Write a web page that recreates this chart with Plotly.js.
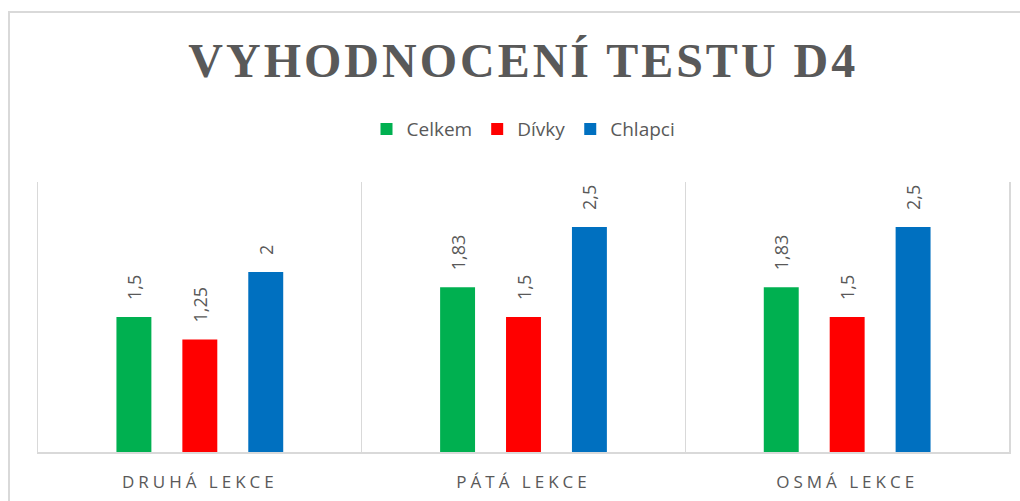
<!DOCTYPE html>
<html>
<head>
<meta charset="utf-8">
<script src="https://cdn.plot.ly/plotly-3.0.1.min.js"></script>
<style>
  html, body { margin: 0; padding: 0; background: #ffffff; }
  #frame { position: absolute; left: 8px; top: 11px; width: 1100px; height: 600px;
           border: 2px solid #d9d9d9; box-sizing: border-box; }
  #chart { position: absolute; left: 0; top: 0; width: 1020px; height: 501px; }
  #chart .xtick text { letter-spacing: 4px; }
  #chart .gtitle { letter-spacing: 3px; }
</style>
</head>
<body>
<div id="frame"></div>
<div id="chart"></div>
<script>
const categories = ["DRUHÁ LEKCE", "PÁTÁ LEKCE", "OSMÁ LEKCE"];
const seriesNames = ["Celkem", "Dívky", "Chlapci"];
const celkem = [1.5, 1.83, 1.83];
const divky = [1.25, 1.5, 1.5];
const chlapci = [2, 2.5, 2.5];
const colors = ["#00B050", "#FF0000", "#0070C0"];

const pad = "\u00a0\u00a0\u00a0";
function labels(vals) { return vals.map(v => pad + String(v).replace(".", ",")); }

const allSeries = [celkem, divky, chlapci];
const traces = allSeries.map((vals, i) => ({
  type: "bar",
  name: seriesNames[i],
  x: categories,
  y: vals,
  text: labels(vals),
  textposition: "outside",
  textangle: -90,
  constraintext: "none",
  cliponaxis: false,
  textfont: { family: "Open Sans", size: 18, color: "#595959" },
  marker: { color: colors[i] },
  hoverinfo: "skip"
}));

const layout = {
  width: 1020, height: 501,
  paper_bgcolor: "rgba(0,0,0,0)",
  plot_bgcolor: "rgba(0,0,0,0)",
  margin: { l: 38, r: 11, t: 182, b: 49, pad: 0 },
  barmode: "group",
  bargap: 0.389,
  bargroupgap: 0.47,
  font: { family: "Open Sans", color: "#595959" },
  title: {
    text: "<b>VYHODNOCENÍ TESTU D4</b>",
    font: { family: "Liberation Serif", size: 48, color: "#595959" },
    x: 0.513, xanchor: "center",
    y: 0.88, yanchor: "middle"
  },
  showlegend: true,
  legend: {
    orientation: "h",
    x: 0.5, xanchor: "center",
    y: 1.196, yanchor: "middle",
    font: { family: "Open Sans", size: 19, color: "#595959" },
    traceorder: "normal"
  },
  xaxis: {
    type: "category",
    tickson: "boundaries",
    showgrid: true,
    gridcolor: "#d9d9d9",
    gridwidth: 1.5,
    showline: true,
    linecolor: "#d9d9d9",
    linewidth: 2,
    ticks: "",
    ticklabelstandoff: 14,
    tickfont: { family: "Open Sans", size: 17, color: "#595959" },
    fixedrange: true
  },
  yaxis: {
    range: [0, 3],
    showgrid: false,
    zeroline: false,
    showticklabels: false,
    showline: true,
    mirror: true,
    linecolor: "#d9d9d9",
    linewidth: 1.5,
    ticks: "",
    fixedrange: true
  }
};

Plotly.newPlot("chart", traces, layout, { displayModeBar: false, staticPlot: true });
</script>
</body>
</html>
